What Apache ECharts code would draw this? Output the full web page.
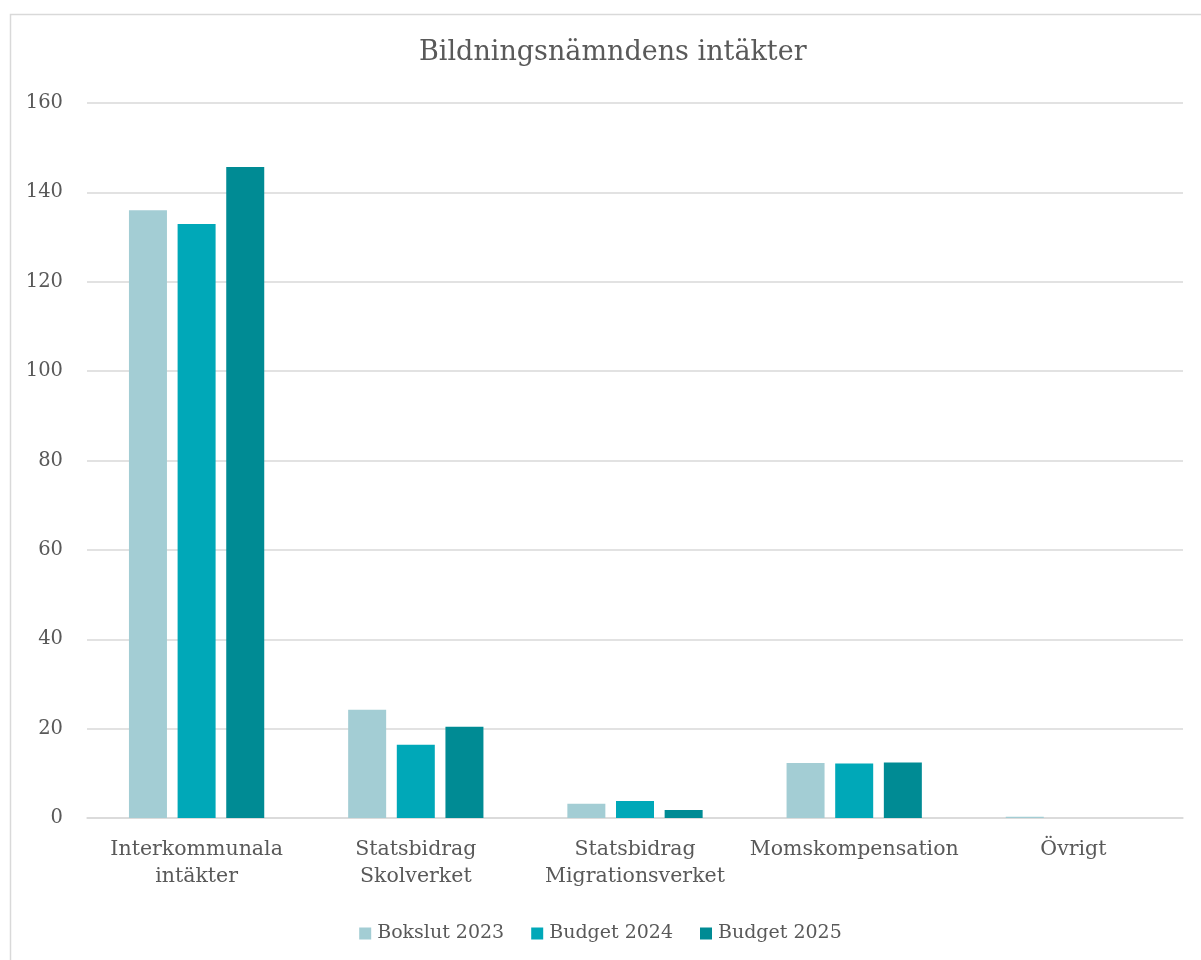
<!DOCTYPE html>
<html>
<head>
<meta charset="utf-8">
<script src="https://cdn.jsdelivr.net/npm/echarts@6/dist/echarts.min.js"></script>
<style>html,body{margin:0;padding:0;background:#fff;}#c{width:1201px;height:960px;}</style>
</head>
<body>
<div id="c"></div>
<script>
const categories = ['Interkommunala\nintäkter', 'Statsbidrag\nSkolverket', 'Statsbidrag\nMigrationsverket', 'Momskompensation', 'Övrigt'];
const seriesNames = ['Bokslut 2023', 'Budget 2024', 'Budget 2025'];
const bokslut2023 = [136.0, 24.2, 3.2, 12.3, 0.3];
const budget2024 = [132.9, 16.4, 3.8, 12.2, 0];
const budget2025 = [145.7, 20.4, 1.8, 12.4, 0];
const colors = ['#a3cdd4', '#00a8b8', '#008b94'];
const yTicks = [0, 20, 40, 60, 80, 100, 120, 140, 160];

const FONT = '"DejaVu Serif", "Liberation Serif", serif';
const chart = echarts.init(document.getElementById('c'));
const data = [bokslut2023, budget2024, budget2025];
chart.setOption({
  animation: false,
  backgroundColor: '#fff',
  graphic: [{
    type: 'rect', left: 8, top: 12,
    shape: { width: 1200, height: 960 },
    style: { fill: 'none', stroke: '#d9d9d9', lineWidth: 1.5 },
    silent: true
  }],
  title: {
    text: 'Bildningsnämndens intäkter',
    left: 414, top: 34,
    textStyle: { fontFamily: FONT, fontSize: 27, fontWeight: 'normal', color: '#595959' }
  },
  legend: {
    data: seriesNames,
    top: 919, left: 'center',
    itemWidth: 12, itemHeight: 12, itemGap: 27,
    icon: 'rect',
    textStyle: { fontFamily: FONT, fontSize: 19, color: '#595959', padding: [0, 0, 0, 1] }
  },
  grid: { left: 87, right: 18, top: 103, bottom: 142, containLabel: false },
  xAxis: {
    type: 'category',
    data: categories,
    axisLine: { lineStyle: { color: '#d9d9d9', width: 1.5 } },
    axisTick: { show: false },
    axisLabel: { fontFamily: FONT, fontSize: 20.5, color: '#595959', margin: 18, lineHeight: 27, interval: 0 }
  },
  yAxis: {
    type: 'value',
    min: yTicks[0], max: yTicks[yTicks.length - 1], interval: 20,
    axisLine: { show: false },
    axisTick: { show: false },
    splitLine: { lineStyle: { color: '#d9d9d9', width: 1.5 } },
    axisLabel: { fontFamily: FONT, fontSize: 19.5, color: '#595959', margin: 24 }
  },
  series: seriesNames.map((n, i) => ({
    name: n,
    type: 'bar',
    data: data[i],
    barWidth: 38,
    barGap: '28%',
    itemStyle: { color: colors[i] }
  }))
});
</script>
</body>
</html>
